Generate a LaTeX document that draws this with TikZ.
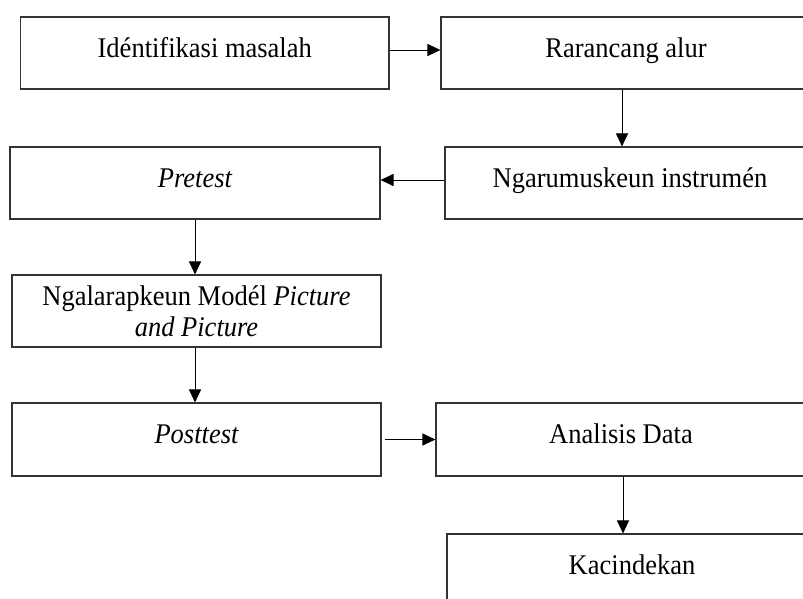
\documentclass[tikz,border=0pt]{standalone}
\usepackage{fontspec}
\setmainfont{Liberation Serif}[FakeStretch=0.93]
\usetikzlibrary{arrows.meta}
\begin{document}
\begin{tikzpicture}[x=1pt,y=-1pt,
  box/.style={draw=black!80,line width=1.1pt,minimum width=370pt,minimum height=72pt,
    inner sep=0pt,align=center,font=\fontsize{28.5}{31}\selectfont},
  one/.style={text height=19pt,text depth=11pt},
  arr/.style={draw=black,line width=1pt,-{Triangle[length=13pt,width=12pt]}}]
\useasboundingbox (0,0) rectangle (803,598);
\clip (0,0) rectangle (803,598);
\fill[white] (0,0) rectangle (803,598);
\node[box,one,minimum width=368.5pt] (b1) at (204.75,53) {Idéntifikasi masalah};
\node[box,one] (b2) at (626,53) {Rarancang alur};
\node[box,one] (b3) at (630,183) {Ngarumuskeun instrumén};
\node[box,one] (b4) at (195,183) {\itshape Pretest};
\node[box,minimum width=369pt] (b5) at (196.5,311) {Ngalarapkeun Modél \textit{Picture}\\\textit{and Picture}};
\node[box,one,minimum width=369pt,minimum height=73pt] (b6) at (196.5,439.5) {\itshape Posttest};
\node[box,one,minimum height=73pt] (b7) at (621,439.5) {Analisis Data};
\node[box,one] (b8) at (632,570) {Kacindekan};
\draw[arr] ([yshift=3pt]b1.east) -- ([yshift=3pt]b1.east -| b2.west);
\draw[arr] ([xshift=-4pt]b2.south) -- ([xshift=-4pt]b2.south |- b3.north);
\draw[arr] ([yshift=3pt]b3.west) -- ([yshift=3pt]b3.west -| b4.east);
\draw[arr] (b4.south) -- (b4.south |- b5.north);
\draw[arr] ([xshift=-1.5pt]b5.south) -- ([xshift=-1.5pt]b5.south |- b6.north);
\draw[arr] ([xshift=3pt]b6.east) -- (b6.east -| b7.west);
\draw[arr] ([xshift=2pt]b7.south) -- ([xshift=2pt]b7.south |- b8.north);
\end{tikzpicture}
\end{document}
